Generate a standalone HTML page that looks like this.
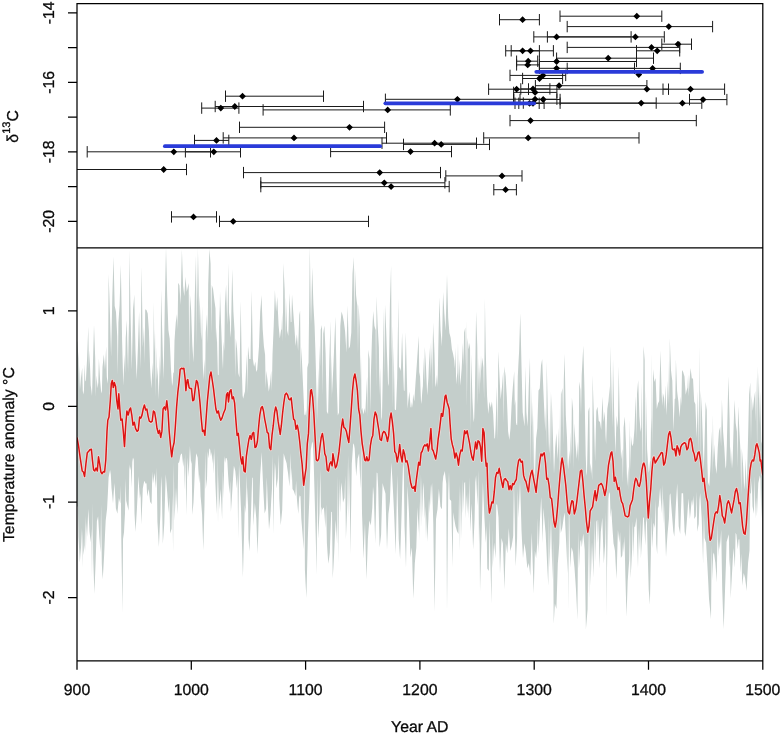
<!DOCTYPE html>
<html><head><meta charset="utf-8"><title>chart</title>
<style>html,body{margin:0;padding:0;background:#fff}svg{display:block}</style></head>
<body>
<svg width="780" height="737" viewBox="0 0 780 737">
<rect width="780" height="737" fill="#fff"/>
<defs><clipPath id="cb"><rect x="77" y="247.8" width="685.8" height="413"/></clipPath>
<clipPath id="ct"><rect x="77" y="3.7" width="685.8" height="244.1"/></clipPath></defs>
<g clip-path="url(#cb)">
<polygon points="77,341.5 77.3,341.5 77.9,350 78.5,358.6 79.2,390.2 79.8,364.9 80.4,389.3 81,378.2 81.6,373 82.2,367.8 82.8,391.1 83.4,394.4 84,389.8 84.6,363.9 85.3,381.5 85.9,380.2 86.5,369.4 87.1,358.5 87.7,342.5 88.3,326.6 88.9,368.8 89.5,350.3 90.1,367.8 90.7,385.3 91.4,390.6 92,395.9 92.6,375.3 93.2,354.6 93.6,339.7 94,324.7 94.6,341.4 95.2,358.1 95.8,397 96.4,375.2 97,381.7 97.7,388.2 98.3,382.3 98.9,358.5 99.5,369.4 100.1,380.2 100.7,386.9 101.3,393.5 101.9,391 102.5,367 103.2,360.6 103.8,354.2 104.4,361.8 105,369.5 105.6,357.9 106.2,346.3 106.8,376.3 107.4,383.7 108,377.9 108.6,274.1 109.3,293.1 109.9,312.1 110.5,334.6 111.1,357.1 111.7,327.1 112.3,297.2 112.9,276.9 113.5,256.6 114.1,281.3 114.7,306 115.4,309.1 116,312.1 116.6,324 117.2,335.9 117.8,375 118.4,322.7 119,314 119.6,305.3 120.2,285 120.8,264.7 121.5,302.8 122.1,340.8 122.7,363.3 123.3,385.7 123.9,370.2 124.5,354.6 125.1,373.3 125.7,338.1 126.3,329.1 126.9,320.1 127.6,369 128.2,322.3 128.8,374.2 129.4,249.7 130,282.8 130.6,315.9 131.2,342.9 131.8,369.9 132.4,339.7 133,309.6 133.7,302 134.3,294.5 134.9,322.5 135.5,350.6 136.1,365.1 136.7,379.6 137.3,363.8 137.9,347.9 138.5,329.7 139.1,311.4 139.8,340 140.4,368.7 141,317.6 141.6,266.6 142.2,307 142.8,347.5 143.4,336.9 144,326.4 144.6,364.1 145.2,309.3 145.9,309.7 146.5,310.1 147.1,311.8 147.7,313.5 148.3,322 148.9,330.4 149.5,348.9 150.1,367.4 150.7,378 151.4,388.6 152,375.6 152.6,362.6 153.2,380.6 153.8,301.6 154.4,352.8 155,329.4 155.6,397.4 156.2,346.5 156.8,380.1 157.5,366.6 158.1,383.1 158.7,399.6 159.3,377.6 159.9,355.6 160.5,377.2 161.1,289.6 161.7,312.1 162.3,334.5 162.9,357 163.6,379.4 164.2,342 164.8,304.6 165.4,275.8 166,246.9 166.6,271.5 167.2,296 167.8,313 168.4,330 169,334.3 169.7,338.6 170.3,353 170.9,367.4 171.5,376.7 172.1,385.9 172.7,382.6 173.3,372.7 173.9,372.5 174.5,341 175.1,331.6 175.8,322.3 176.4,318.2 177,314.1 177.6,329.3 178.2,282.7 178.8,284 179.4,285.3 180,295.1 180.6,305 181.2,277.2 181.9,249.4 182.5,267.5 183.1,285.7 183.7,291 184.3,296.3 184.9,286.5 185.5,276.8 186.1,284.3 186.7,291.7 187.7,287.4 188.7,283.1 189.3,367.7 189.9,293.8 190.5,301.7 191.1,309.7 191.7,327.2 192.3,344.7 192.9,353.6 193.5,362.6 194.2,329.2 194.8,295.8 195.4,275.6 196,255.3 196.6,346.6 197.2,246.2 197.8,302.2 198.4,252.6 199,324.9 199.6,295.3 200.3,313.9 200.9,332.5 201.5,340.5 202.1,306 202.7,359 203.3,380 203.9,369.5 204.5,358.9 205.1,381.7 205.7,332.5 206.4,323.2 207,313.9 207.6,343.9 208.2,285.1 208.8,266.9 209.4,248.8 210,256.2 210.6,263.7 211.2,334.1 211.8,285.1 212.5,287.2 213.1,289.3 213.7,294.5 214.3,299.7 214.9,304.1 215.5,308.5 216.1,342.4 216.7,327.2 217.3,351 217.9,374.8 218.6,375.2 219.2,306 219.6,326.6 220,291.1 220.6,309.3 221.2,327.6 221.8,343.4 222.4,359.3 223,369.5 223.6,341.2 224.3,351.1 224.9,305.7 225.5,295 226.1,284.4 226.7,304.8 227.3,325.3 227.9,294.2 228.5,263 229.1,322.1 229.7,312.1 230.4,337.8 231,330.6 231.6,299.8 232.2,268.9 232.8,290.1 233.4,311.4 234,321.5 234.6,331.6 235.2,377.6 235.8,338.3 236.5,344 237.1,349.7 237.7,361.4 238.3,373.1 238.9,375.4 239.5,377.6 240.1,339.2 240.7,300.8 241.3,336.6 241.9,372.3 242.6,395.6 243.2,398.8 243.8,396.1 244.4,393.5 245,391.2 245.6,380 246.2,367.3 246.8,354.6 247.4,394.1 248,346.1 248.7,352.5 249.3,358.9 249.9,358.9 250.5,358.9 251.1,324.7 251.7,290.6 252.3,324.7 252.9,358.9 253.5,362.9 254.1,366.8 254.8,364.2 255.4,361.5 256,369.6 256.6,372.1 257.2,369.8 257.8,362.6 258.4,354.4 259,346.3 259.6,329.2 260.2,312.1 260.9,303.6 261.5,295 262.1,312.1 262.7,329.2 263.3,337.7 263.9,346.3 264.5,350.6 265.1,354.8 265.7,388.3 266.4,370.7 267,376 267.6,381.3 268.2,386.5 268.8,391.8 269.4,387.9 270,383.9 270.6,377.3 271.2,370.7 271.8,391.3 272.5,354.8 273.1,340.4 273.7,326 274.3,308 274.9,290 275.5,300.7 276.1,311.4 276.7,304 277.3,296.7 277.9,311 278.6,325.3 279.2,331.9 279.8,338.6 280.4,334.6 281,330.6 281.6,329.1 282.2,312.1 282.8,342.3 283.4,263 284,276.6 284.7,290.3 285.3,339.1 285.9,297.2 286.5,313.9 287.1,330.6 287.7,333.3 288.3,335.9 288.9,314.4 289.5,292.9 290.1,307.6 290.8,322.3 291.4,322 292,294.3 292.6,302.9 293.2,311.4 293.8,319.5 294.4,327.6 295,336.8 295.6,346.1 296.2,340.2 296.9,334.3 297.5,342.6 298.1,351 298.7,333 299.3,315 299.7,312.7 300.1,310.4 300.7,376.5 301.3,346.7 302.5,373.1 303.7,399.6 304.3,414 304.9,415.4 305.5,414.6 306.1,410.1 306.7,417.5 307.3,367.8 307.9,365.2 308.5,362.6 309.2,304.1 309.8,245.7 310.4,285.2 311,324.7 311.6,295.9 312.2,267.1 312.8,285.6 313.4,304.2 314,315.2 314.6,326.1 315.3,347.4 315.9,368.7 316.5,394.5 317.1,420.3 317.7,393.9 318.3,367.4 318.9,401.2 319.5,345.1 320.1,366.7 320.7,329.8 321.4,327.5 322,325.1 322.6,395.7 323.2,333.7 323.8,329.6 324.4,325.5 325,339.4 325.6,353.2 326.2,382.4 326.8,411.6 327.5,412.9 328.1,414.2 328.7,387.8 329.3,361.3 329.9,341 330.5,320.7 331.1,398.8 331.7,354.6 332.3,394 332.9,376.4 333.6,361.2 334.2,346.1 334.8,331.2 335.4,316.4 336,347.4 336.6,378.4 337.2,396.9 337.8,415.4 338.4,413.9 339,412.4 339.7,369.3 340.3,326.1 340.9,318.8 341.5,311.4 342.1,313.4 342.7,315.5 343.3,318.7 343.9,321.9 344.5,326.8 345.1,331.6 345.8,342.2 346.4,352.8 347,329 347.6,305.2 348.2,327 348.8,348.7 349.4,347.4 350,346.1 350.6,339.3 351.3,332.5 351.9,303.2 352.5,274 353.1,265.4 353.7,256.9 354.3,331.2 354.9,267.6 355.5,281.5 356.1,295.3 356.7,300.7 357.4,306 358,353.9 358.6,303.9 359.2,315.1 359.8,326.4 360.4,380.6 361,354.8 361.6,410.6 362.2,407.7 362.8,411.1 363.5,414.4 364.1,411.3 364.7,408.1 365.3,413.6 365.9,400.2 366.5,388.3 367.1,376.4 367.7,417.3 368.3,349.7 368.9,354.3 369.6,358.9 370.2,412.6 370.8,377.2 371.4,356.9 372,336.5 372.6,323.7 373.2,310.9 373.8,318.4 374.4,325.8 375,328 375.7,330.1 376.1,387.6 376.5,295.9 377.1,311 377.7,326.1 378.3,336.8 378.9,347.5 379.5,395.5 380.1,367.4 380.7,393.9 381.4,420.3 382,416.7 382.6,384.9 383.2,346.7 383.8,308.5 384.4,376.4 385,304.2 385.6,317.3 386.2,330.4 386.8,348.9 387.5,367.4 388.1,386.2 388.7,383.3 389.3,344 389.9,304.8 390.5,285.2 391.1,265.5 391.7,360 392.3,325.3 392.9,408.1 393.6,346.1 394.2,377.7 394.8,409.3 395.4,410 396,410.1 396.6,393.9 397.2,377.6 397.8,338 398.4,298.5 399,369 399.7,366.8 400.3,368.9 400.9,370.9 401.5,351.7 402.1,332.5 402.7,353.8 403.3,375.2 403.9,390.6 404.5,391 405.1,361.5 405.8,332 406.4,357.6 407,383.1 407.6,408.8 408.2,402 408.8,396.7 409.4,391.4 410,399.4 410.6,407.3 411.2,407.4 411.9,402 412.5,407.7 413.1,394.1 413.7,397.7 414.3,401.4 414.9,392.1 415.5,382.9 416.1,374.5 416.7,366 417.7,350.9 418.7,335.7 419.3,376.6 419.9,372.1 420.5,388 421.1,403.9 421.7,400.3 422.3,391.2 422.9,385.7 423.5,357 424.2,383.1 424.8,346.7 425.4,357 426,367.2 426.6,381.4 427.2,395.6 427.8,386.8 428.4,378 429,362.7 429.7,347.5 430.3,376.7 430.9,342.3 431.5,369.3 432.1,332.1 432.7,391.2 433.3,322.1 433.9,338.1 434.5,354.1 435.2,382.8 435.8,387.3 436.4,380.9 437,374.6 437.6,387.4 438.2,352.1 438.8,324.7 439.4,297.3 440,313.9 440.6,330.6 441.3,338.5 441.9,346.5 442.5,319.3 443.1,292.1 443.7,302.4 444.3,312.7 444.9,321.6 445.5,330.6 446.3,302.4 447,274.2 447.6,295.9 448.2,317.7 448.8,325.4 449.4,333 450.1,335.5 450.7,337.9 451.3,343.6 451.9,349.2 452.5,351.6 453.1,354.1 453.7,357.2 454.3,360.4 454.9,368.4 455.5,347.5 456.2,384.5 456.8,378 457.4,372.5 458,342.3 458.6,386.6 459.2,358.9 459.8,372.4 460.4,385.8 461,377 461.7,368.2 462.3,355.5 462.9,342.8 463.5,365.8 464.1,332.6 464.7,330 465.3,327.4 465.8,367.6 466.3,319.7 466.9,406.8 467.5,337.7 468.1,343.4 468.7,349.2 469.3,346 470,342.8 470.6,431.5 471.2,354.1 471.8,376.3 472.4,398.5 473,410.5 473.6,422.4 474.2,417.9 474.8,396.3 475.5,353.8 476.1,311.3 476.7,329.3 477.3,347.2 477.9,405.2 478.5,357.5 479.1,395.3 479.7,363.8 480.3,384.1 481,354.9 481.6,371 482.2,357.5 482.8,362.2 483.4,367 484.1,399.3 484.9,298.2 485.3,325.1 485.8,352 486.4,374.3 487.1,396.6 487.7,405.3 488.3,414.1 488.9,407.8 489.5,401.4 490.1,404.6 490.7,407.8 491.3,404.6 491.9,401.4 492.6,407.8 493.2,414.1 493.8,426.4 494.4,438.6 495,438.2 495.6,426.8 496.2,406.6 496.8,386.3 497.6,439.9 498.3,350.9 498.9,363.7 499.5,376.5 500.1,388 500.7,399.5 501.3,393.1 502,386.8 502.6,379.1 503.2,371.4 503.8,423.6 504.4,366.3 505,371.2 505.6,376 506.2,386.3 506.8,396.6 507.5,413.9 508.1,431.2 508.7,435.6 509.3,440.1 509.9,434.2 510.5,428.3 511.1,415.6 511.7,402.9 512.3,394.6 512.9,386.3 513.6,378.6 514.2,370.9 514.8,405.8 515.4,399.5 516,422.5 516.6,424.9 517.2,425.3 517.8,376.5 518.4,363.9 519.1,351.4 519.7,332.1 520.3,312.9 520.9,339.3 521.5,365.8 522.1,389 522.7,412.2 523.3,416.8 523.9,421.5 524.6,426.5 525.2,366.3 525.8,389.2 526.4,412.2 527,419.5 527.6,426.8 528.2,406.3 528.8,385.8 529.4,371.7 530,357.6 530.7,469.3 531.3,385.8 531.9,427.1 532.5,401.2 533.1,471.1 533.7,414.3 534.3,473.8 534.9,475.6 535.5,457.1 536.1,438.6 536.7,433.3 537.3,428 537.9,409.3 538.5,390.5 539.2,389.4 539.8,388.3 540.4,376.8 541,365.4 541.6,362.2 542.2,359 542.8,375 543.4,391 544,404.2 544.6,417.5 545.3,431.6 545.9,406.9 546.3,449.8 546.7,360.9 547.3,387.4 547.9,413.8 548.5,433.7 549.1,453.7 549.7,442.6 550.3,390 550.9,464.7 551.6,393.2 552.2,412.5 552.8,431.7 553.4,452.8 554,474 554.6,460.8 555.2,447.6 555.8,440.2 556.4,432.9 557,446.1 557.7,459.3 558.3,443.5 558.9,427.6 559.5,478.2 560.1,390 560.7,468.3 561.3,394.3 561.9,391.1 562.5,387.9 563.2,445.2 563.8,379.3 564.2,366.5 564.6,353.7 565.2,384.4 565.8,415 566.4,426.4 567,437.8 567.6,461.9 568.2,469.5 568.8,459.8 569.5,450 570.1,464.2 570.7,431.7 571.3,456.8 571.9,397.5 572.5,403.9 573.1,410.3 573.7,469.8 574.3,423.1 574.9,433.9 575.6,444.7 576.2,451.8 576.8,458.9 577.4,450.2 578,441.5 578.6,462.2 579.2,381.5 579.8,385.4 580.4,389.4 581,415.3 581.7,375 582.5,360.2 583.3,345.4 583.9,367.8 584.5,390.2 585.1,422.5 585.7,454.9 586.3,472.1 586.9,476 587.6,443.7 588.2,411.4 588.8,409.1 589.4,406.9 590,474 590.6,463 591.2,468.3 591.8,473.6 592.2,480.7 592.6,374.8 593.2,395.1 593.9,415.4 594.5,438.6 595.1,461.8 595.7,436.4 596.3,410.9 596.9,408.8 597.5,406.7 598.1,413.7 598.7,420.7 599.4,421.4 600,422.1 600.6,426.1 601.2,430.1 601.8,413.2 602.4,396.4 603,409.2 603.6,421.9 604.2,416.6 604.8,411.4 605.5,434.9 606.1,444.3 606.7,426.7 607.3,409.1 607.9,405.1 608.5,401.2 609.1,393.6 609.7,385.9 610.1,415.2 610.5,345.4 611.1,373.1 611.8,400.9 612.4,427.7 613,358.5 613.6,386.4 614.2,414.4 614.8,434 615.4,453.7 616,434.5 616.6,415.4 617.2,421.5 617.9,427.6 618.3,396.7 618.7,365.7 619.3,396.7 619.9,427.6 620.5,443.5 621.1,459.3 621.7,454.1 622.3,448.8 622.9,483.1 623.6,427.6 624.2,422.1 624.8,416.5 625.4,430.2 626,443.9 626.6,465 627.2,486.2 627.8,476.2 628.4,466.3 629,490.2 629.7,418.7 630.3,470.1 630.9,435.8 631.5,441 632.1,446.3 632.7,444.9 633.3,443.5 633.9,436.2 634.5,428.8 635.1,412.4 635.8,396 636.4,439.9 637,394.3 637.6,387.1 638.2,380 638.8,398.1 639.4,416.2 640,424.2 640.6,432.1 641.2,427.3 641.9,382.3 642.7,480.9 643.5,346 644.1,353 644.7,360.1 645.3,480.1 645.9,390 646.5,419.6 647.1,449.2 647.9,461 648.7,472.8 649.3,470.1 649.9,462.2 650.5,460.4 651.1,417.5 651.5,432.4 651.9,352.1 652.5,451 653.1,369.1 653.7,375.6 654.4,382.1 655,380 655.6,378 656.2,393.5 656.8,408.9 657.4,406.3 658,403.6 658.6,402.3 659.2,401 659.8,375.6 660.5,350.2 661.1,372.7 661.7,395.1 662.3,406.1 662.9,392.9 663.5,395.6 664.1,398.3 664.7,409.4 665.3,384.9 665.9,400.1 666.6,415.2 667.2,397.9 667.8,380.6 668.4,404.6 669,359.3 669.4,403.9 669.8,338.1 670.4,354.2 671,370.2 671.6,375.5 672.3,380.8 672.9,406 673.5,431.1 674.1,415 674.7,398.9 675.3,398.5 675.9,359 676.5,375 677.1,391 677.7,396.3 678.4,401.6 679,409.5 679.6,417.5 680.2,406.9 680.8,396.3 681.4,405.9 682,369.9 682.6,370.9 683.2,372 683.8,374.2 684.5,376.5 685.1,385.6 685.7,394.7 686.3,392 686.9,389.4 687.5,387.5 688.1,374.5 688.7,396.3 689.3,384.1 689.9,376 690.6,367.9 691.2,373.2 691.8,378.4 692.4,378.5 693,378.6 693.6,390 694.2,401.4 694.8,402.8 695.4,404.2 696,421.4 696.7,438.6 697.3,414.7 697.9,390.7 698.7,451.6 699.5,345.7 700.1,461 700.7,390.4 701.3,400.9 701.9,411.4 702.6,432.5 703.2,453.7 703.8,470.4 704.4,448.4 705,425.1 705.6,401.8 706.2,406.1 706.8,410.3 707.4,462.5 708,482.1 708.7,484.2 709.3,486.2 709.9,475.6 710.5,465 711.1,448.1 711.7,431.1 712.3,475.4 712.9,414 713.5,462.8 714.1,443.9 714.8,454.5 715.4,465 716,469.5 716.6,474 717.2,460.8 717.8,447.6 718.4,439.3 719,431.1 719.6,428.9 720.2,426.8 721.1,446.4 721.9,399 722.5,415.4 723.1,431.7 723.7,439.6 724.3,447.6 724.9,458.1 725.5,468.7 726.1,465.9 726.8,446.3 727.6,411.1 728.4,376 729,397.3 729.6,418.7 730.2,464.5 730.8,446.3 731.4,457.5 732,468.7 732.7,458.8 733.3,437 733.9,418.3 734.5,399.7 735.1,411.4 735.7,423.1 736.3,427.3 736.9,431.5 737.5,468.1 738.1,405.9 738.8,418.7 739.4,431.5 740,442.4 740.6,453.2 741.2,494.4 741.8,448 742.4,455.9 743,463.8 743.6,476.6 744.2,489.5 744.9,482.2 745.5,458.5 746.1,474 746.7,489.5 747.3,466.7 747.9,443.9 748.5,419.2 749.1,394.5 749.7,388.3 750.3,382.2 751,441.9 751.6,395.1 752.2,403 752.8,410.9 753.4,404.9 754,398.9 754.6,395 755.2,391 755.8,421.9 756.5,376.1 757.1,455.8 757.7,365.3 758.3,398.9 758.9,371.8 759.5,424.4 760.1,391 760.7,416.1 761.3,441.2 761.9,443.6 762.6,446 762.8,446 762.8,521.5 762.7,521.5 762,487.1 761.3,519 760.5,478.7 759.8,475.4 759.1,479.3 758.3,483.2 757.6,499.8 756.9,516.5 756.1,497.3 755.4,519 754.7,476 753.9,513.8 753.2,510 752.5,506.2 751.7,480.6 751,493.2 750.3,493.5 749.5,550.6 748.8,556.7 748.1,562.8 747.3,576.9 746.6,591 745.9,584.6 745.1,578.2 744.4,575.6 743.7,573.1 742.9,579.4 742.2,585.7 741.5,553.4 740.7,572.8 740,556 739.3,539.2 738.6,539.6 737.8,549.5 737.1,541.9 736.4,534.4 735.6,532.8 734.9,567.7 734.2,557.9 733.4,548 732.7,560.9 732,573.7 731.3,586.1 730.7,598.5 730.1,557.6 729.5,567.7 728.8,534.3 728,536.9 727.3,539.5 726.6,542.1 725.9,565.1 725.1,588.2 724.4,608.7 723.7,629.3 722.9,608.9 722.2,588.5 721.7,559.1 721.2,529.7 720.5,539.9 719.7,550 719,540.8 718.3,556.8 717.5,523.5 716.8,582.5 716.1,572.5 715.3,562.6 714.6,557.6 713.9,552.6 713.1,554.8 712.4,580.8 711.7,545 711,619.2 710,609 709,598.7 708.3,583.3 707.5,567.9 706.8,555.4 706.1,542.8 705.3,540.5 704.6,538.1 703.9,513.6 703.1,564 702.4,541.1 701.7,518.2 700.9,505.6 700.2,493 699.5,499.9 698.7,524 698,527.8 697.3,531.7 696.5,491.4 695.8,516.3 695.1,517.6 694.3,518.9 693.6,495.6 692.9,506 692.1,499.3 691.4,503.5 690.7,511.2 689.9,518.9 689.2,508.7 688.5,498.5 687.7,508.7 687,518.9 686.3,527.8 685.5,536.8 685.1,534.2 684.6,531.7 683.8,512.4 683.1,493.2 682.4,493.2 681.6,493.2 680.9,513.5 680.2,533.9 679.4,530 678.7,526.2 678,504.7 677.2,483.2 676.5,494.7 675.8,506.3 675,521.5 674.3,536.8 673.8,534.1 673.3,531.3 672.6,522.5 671.9,513.7 671.1,503.5 670.4,493.2 669.7,495.1 668.9,518.9 668.2,526.5 667.5,534.2 666.7,545.8 666,557.3 665.3,538.1 664.5,518.9 663.8,498.2 663.1,524 662.3,484.4 661.6,513.5 660.9,500.7 660.1,487.8 659.4,496.8 658.7,505.8 657.9,508.5 657.2,554.5 656.7,549.3 656.2,544 655.5,499.7 654.8,527.9 654.2,525.3 653.5,522.8 652.9,535.6 652.3,548.4 651.7,516.8 651.1,543.3 650.5,574.1 649.9,604.8 649.3,597.1 648.7,589.4 647.7,553.5 646.8,517.5 646,522.8 645.3,545.6 644.6,531.6 643.8,517.5 643.1,517.5 642.4,532.9 641.6,545.7 640.9,558.5 640.2,519.6 639.4,550.9 638.7,527.7 638,568.6 637.2,542.9 636.5,517.3 635.8,522.2 635,527.2 634.3,526.2 633.6,557.9 632.8,521.1 632.1,550.1 631.4,564.2 630.6,578.3 629.9,518.4 629.2,560.5 628.4,570.8 627.7,581 627.1,599 626.5,616.9 625.9,595.1 625.3,573.3 624.5,536.1 623.8,552.7 623.1,541.8 622.3,555.4 621.6,556.7 620.9,558.1 620.1,532.1 619.4,542.8 618.7,536.4 617.9,530.1 617.2,554.6 616.5,579.2 615.7,565.1 615,551 614.3,547.1 613.5,543.3 612.8,533 612.1,522.8 611.3,508.3 610.6,517.6 609.9,493.9 609.1,492 608.4,498.8 607.7,568.9 607.1,494.4 606.5,617.7 605.8,512 605.2,543.3 604.5,553.5 603.8,563.8 603,540.7 602.3,517.6 601.6,524.8 600.8,532 600.1,550.5 599.4,568.9 598.6,519.3 597.9,543.3 597.2,519.8 596.4,521.8 595.7,542.3 595,562.8 594.2,520.1 593.5,578 592.8,560 592,542.1 591.3,564 590.6,585.9 589.8,522.9 589.1,598.7 588.4,529.1 587.6,609 586.8,619.1 585.9,629.3 585.3,589.5 584.7,549.8 584,541.6 583.2,533.5 582.5,540.3 581.8,547.2 581.1,539.2 580.3,542.1 579.6,555.2 578.9,568.4 578.1,531.2 577.4,619.7 576.7,604 575.9,588.2 575.2,578 574.5,567.7 573.7,560 573,552.3 572.3,549.8 571.5,547.2 570.8,557.4 570.1,567.7 569.3,498.9 568.6,612 568.1,499.1 567.6,573.8 566.9,558.5 566.2,543.3 565.4,527.9 564.7,512.5 564.2,515.1 563.7,517.6 563,522.8 562.2,527.9 561.5,530.5 560.8,533 560,513.5 559.3,543.3 558.6,553.5 557.8,563.8 557.1,586.4 556.4,609 555.6,606.3 554.9,603.6 554.3,613.9 553.7,624.1 553.1,540.3 552.5,580.5 551.7,548.5 551,516.4 550.3,542.1 549.5,567.7 548.9,515.4 548.3,585.9 547.7,574.8 547.1,563.8 546.4,548.4 545.6,533 544.9,525.3 544.2,517.6 543.4,507.8 542.7,543.3 542,520.2 541.2,497.1 540.5,509.9 539.8,522.8 539.2,538.1 538.5,553.5 537.9,518 537.3,543.3 536.7,550.8 536.1,558.3 535.5,554.4 534.9,550.5 534.3,572.3 533.7,594.1 532.7,563.3 531.8,532.5 531,554.2 530.3,575.9 529.6,569.5 528.8,563.1 528.1,565.7 527.4,568.4 526.6,560.7 525.9,553 525.2,548.2 524.4,543.3 523.7,550.7 523,558.2 522.2,544.3 521.5,530.5 520.8,506.2 520,482 519.3,499.9 518.6,517.9 517.8,489.2 517.1,538.4 516.4,552.6 515.6,566.7 515.1,542.4 514.7,518 513.9,480.5 513.2,535.8 512.5,540.8 511.7,545.8 511,548.4 510.3,551 509.5,539.4 508.8,527.9 508.1,540.7 507.3,553.5 506.6,548.4 505.9,543.3 505.1,566.4 504.4,589.4 503.7,566.4 502.9,543.3 502.2,540.7 501.5,538.1 500.7,556.1 500,574.1 499.3,545.8 498.5,517.6 497.8,511 497.1,504.4 496.3,504.6 495.6,558.3 494.9,550.4 494.1,542.5 493.4,555.4 492.7,568.2 492.1,529.8 491.5,604.5 490.8,577.5 490.2,550.6 489.5,519.6 488.8,571.1 488,569.8 487.3,568.6 486.6,526.1 485.8,542.9 485.1,530.3 484.4,517.6 483.6,499.7 482.9,481.7 482.2,512.5 481.4,543.3 480.7,567.6 480,592 479.5,523.5 479,544.5 478.3,469.8 477.5,506 476.8,490.6 476.1,475.3 475.3,482.5 474.6,518.9 473.9,534.2 473.1,549.6 472.4,526.5 471.7,503.5 470.9,517.7 470.2,531.9 469.5,477.1 468.7,518.9 468,491.2 467.3,513.7 466.5,494.8 465.8,518.9 465.1,482.1 464.3,482.9 463.6,498.2 462.9,513.4 462.1,479.2 461.4,539.4 460.7,487.9 459.9,551.8 459.2,484.6 458.5,533.9 457.7,532.6 457,531.3 456.3,528.7 455.5,526.2 454.8,522.2 454.1,518.2 453.3,512.3 452.6,567.2 451.9,534.1 451.2,500.9 450.4,500 449.7,499.2 449,472 448.2,494.1 447.6,553 447,612 446.6,548 446.3,483.9 445.5,477.5 444.8,471.1 444.1,473.7 443.3,476.2 442.6,483.1 441.9,509.2 441.1,507.9 440.4,506.5 439.7,497.6 438.9,488.7 438.2,498.9 437.5,509.2 436.7,514.3 436,519.3 435.3,565.5 434.5,611.7 433.9,567.9 433.3,524.2 432.7,503.6 432.1,482.9 431.5,487.7 430.9,506 430.3,484.1 429.7,513.7 429,498.4 428.4,518.9 427.8,530.4 427.2,541.9 426.6,514.3 426,539.4 425.4,506.2 424.8,518.9 424.2,500.7 423.5,482.5 422.9,490.2 422.3,518.1 421.7,476.5 421.1,528.1 420.5,473.4 419.9,541 419.3,501 418.7,533.1 417.5,507.3 416.3,547.8 415.5,555.5 414.8,563.2 414.1,581 413.3,598.8 412.6,573.1 411.9,547.5 411.1,552.6 410.4,557.7 409.7,534.7 408.9,511.6 408.2,498.7 407.5,485.9 406.7,527.2 406,568.5 405.3,547 404.5,525.5 403.8,468.3 403.1,461.4 402.3,487.2 401.6,513 400.9,536.1 400.1,559.2 399.4,548.9 398.7,538.7 397.9,506.7 397.2,474.8 396.5,514.6 395.7,554.3 395,536.4 394.3,518.4 393.6,503 392.8,487.6 392.1,475.1 391.4,462.6 390.6,482 389.9,501.4 389.2,507.7 388.4,513.9 387.7,531.8 387,549.8 386.2,521.8 385.5,493.7 384.8,491.2 384,488.6 383.3,485.9 382.6,483.1 381.8,508.9 381.1,534.7 380.4,541.1 379.6,547.5 378.9,518 378.2,488.5 377.4,473.2 376.7,472.5 376,508.1 375.2,543.7 374.5,519.2 373.8,494.7 373,486.6 372.3,507.7 371.6,516.6 370.8,525.6 370.1,523 369.4,520.5 368.6,529.5 367.9,538.4 367.2,559 366.4,579.6 365.7,551.4 365,523.2 364.2,541.1 363.5,559.1 362.8,536.2 362,513.3 361.3,441.5 360.6,488.9 359.8,471.2 359.1,453.6 358.4,456.1 357.6,458.7 356.9,467.7 356.2,476.6 355.4,462.5 354.7,448.4 354,444.7 353.2,443.3 352.5,453.6 351.8,463.8 351.1,509.4 350.3,555 349.6,465.9 348.9,519.1 348.1,455 347.4,501.1 346.7,520.2 345.9,539.4 345.2,475.4 344.5,497.9 343.7,500.3 343,502.8 342.3,492.5 341.5,482.3 340.8,490.8 340.1,512.9 339.3,478.2 338.6,564.2 337.9,475.8 337.1,543.7 336.4,531.6 335.7,519.5 334.9,536.2 334.2,552.8 333.5,565.7 332.7,578.5 332,511.9 331.3,511.8 330.5,532.3 329.8,552.8 329.1,558.3 328.3,563.8 327.6,553.6 326.9,543.3 326.1,504.4 325.4,527.9 324.7,517.7 323.9,507.4 323.2,508.1 322.5,510 321.7,507.1 321,515.7 320.3,469.4 319.5,513.3 318.8,526.1 318.1,538.9 317.3,476.1 316.6,575 315.9,544.1 315.1,513.3 314.4,487.6 313.7,462 312.9,443.8 312.2,441.5 311.5,446 310.7,450.5 310,475.4 309.3,500.2 308.5,519.6 307.8,538.9 307.1,568.4 306.4,597.9 305.6,583.8 304.9,569.7 304.3,441.8 303.7,549.2 302.5,533.8 301.3,518.4 300.5,496.5 299.8,495.3 299.1,498 298.3,514 297.6,506.4 296.9,498.7 296.1,480.8 295.4,496.2 294.7,493.7 293.9,491.3 293.2,490.1 292.5,488.9 291.7,467.8 291,481.3 290.3,453 289.5,486.4 288.8,480 288.1,473.6 287.3,468.5 286.6,463.3 285.9,460.9 285.1,458.4 284.4,455.9 283.7,453.3 282.9,481.6 282.2,509.9 281.5,517.6 280.7,525.2 280,512.2 279.3,499.1 278.6,454.3 277.8,478.6 277.1,483.5 276.4,488.4 275.6,470.1 274.9,462.7 274.2,481.8 273.4,534.5 272.7,454.5 272,488.4 271.2,501.2 270.5,514 269.8,521.7 269,529.4 268.3,514 267.6,498.6 266.8,477.2 266.1,508.4 265.4,511 264.6,513.5 263.9,500.6 263.2,487.6 262.4,469.8 261.7,452 261,463.5 260.2,475.1 259.5,494.3 258.8,513.5 258.2,533.9 257.5,554.3 256.9,536.4 256.3,518.4 255.6,510.7 254.9,503 254.1,514.6 253.4,526.1 252.8,478 252.2,477.4 251.6,495.2 251,513 250.2,532.3 249.5,551.5 249,545.2 248.5,538.9 247.8,487.1 247,505.6 246.3,474.3 245.6,513.3 244.8,505 244.1,533.8 243.5,555.6 242.9,577.4 242,545.3 241.2,513.3 240.4,495.5 239.7,477.7 239,463.9 238.2,539 237.5,474 236.8,488.6 236.1,479.8 235.3,470.9 234.6,468.3 233.9,465.8 233.1,477.6 232.4,489.3 231.7,500.6 230.9,511.9 230.2,480.4 229.5,494 228.7,483.7 228,473.5 227.3,460.8 226.5,458.1 225.8,457.9 225.1,463 224.3,456 223.6,498.6 222.9,470.9 222.1,519.4 221.4,504.1 220.7,488.9 219.9,499.1 219.2,509.4 218.6,474.6 218,524.8 217.4,454.8 216.8,514.5 216,498 215.3,481.5 214.6,448.1 213.8,474 213.1,454.1 212.4,463.7 211.6,452 210.9,456 210.2,449.7 209.4,448.3 208.9,453.4 208.4,458.6 207.7,451 207,479.1 206.4,484.1 205.8,489.1 205.2,450.9 204.5,504.5 203.9,527.6 203.3,550.6 202.7,532.7 202.1,514.7 201.4,505.6 200.6,496.5 199.9,474.3 199.2,483.4 198.4,470.5 197.7,457.7 197,455.4 196.2,453.2 195.5,462.3 194.8,471.5 194.2,486.9 193.5,502.3 192.9,508.7 192.3,515.1 191.7,460.5 191.1,464.1 190.5,455.1 189.9,446.1 189.3,461.5 188.7,476.9 187.5,457.3 186.3,515.6 185.5,453 184.8,490 184.1,457.7 183.3,466.9 182.6,460.2 181.9,453.6 181.1,454.1 180.4,455.5 179.7,459.4 178.9,463.2 178.2,462.3 177.5,514.5 176.7,501.1 176,487.6 175.3,504.3 174.5,521 173.8,462.4 173.1,551.7 172.3,495.5 171.6,528.7 170.9,531 170.1,533.4 169.4,497.2 168.7,512.9 167.9,502.7 167.2,492.4 166.5,483.4 165.7,474.3 165,498.7 164.3,523.2 163.6,533.6 162.8,544.1 162.3,515.8 161.8,487.6 161.1,476.1 160.4,514.3 159.6,530.7 158.9,547.1 158.2,534.3 157.4,521.5 156.7,467.5 156,488.2 155.2,480.7 154.5,473.1 153.8,478.2 153,483.4 152.3,471.4 151.6,504.2 150.9,503 150.1,501.7 149.4,495.3 148.7,488.9 147.9,492.7 147.2,496.5 146.5,483.3 145.7,483.7 145,482.3 144.3,480.8 143.5,484.6 142.8,488.5 142.1,506.4 141.3,524.4 140.6,493.3 139.9,498.7 139.1,487.4 138.4,476 137.7,492.7 136.9,509.4 136.2,520.7 135.5,532 135,522.8 134.5,513.6 133.8,459.7 133,457.5 132.3,462.1 131.6,488 130.8,466.3 130.1,469.9 129.4,464.3 128.6,510.8 128,508.3 127.4,505.7 126.8,503.3 126.2,500.8 125.6,478.6 125,513.6 124.3,526.3 123.7,539 123.1,532.3 122.5,613.4 121.9,576.3 121.3,539.2 120.8,485.2 120.3,503.3 119.6,500.7 118.9,498.1 118.1,506 117.4,513.8 116.7,511.2 115.9,508.6 115.2,495.8 114.5,483 113.7,493.2 113,503.5 112.3,495.8 111.5,488.1 110.8,474.5 110.1,469.9 109.3,473.8 108.6,477.6 107.9,493 107.1,508.4 106.4,514.5 105.7,520.6 104.9,537.3 104.2,553.9 103.5,566.7 102.7,579.5 102.2,571.4 101.8,563.4 101.1,504.4 100.5,552.4 99.9,544.7 99.3,537 98.7,526.6 98.1,516.2 97.5,518.8 96.9,521.3 96.3,542 95.6,562.6 95,578.3 94.4,593.9 93.8,576.1 93.2,558.2 92.6,503 92,578.5 91.4,528.4 90.8,542.5 90.2,537.2 89.5,531.8 88.9,520.3 88.3,508.8 87.7,523 87.1,537.2 86.5,521.9 85.9,552.6 85.3,515.8 84.7,545 84,550.2 83.4,555.3 82.8,529.5 82.2,568.1 81.6,527.7 81,547.5 80.4,555.1 79.8,562.7 79.2,550 78.5,537.2 77.9,507.1 77.3,506.3 77,506.3" fill="#c4cecb"/>
<path d="M77 437.9 L77.1 437.9 L78.5 445.6 L80.2 457.8 L82.2 471 L83.4 472 L84.6 476.5 L85.9 463.9 L87.3 452.7 L88.7 451.3 L89.9 449.7 L91.4 449.2 L92.4 459.8 L93.6 470 L94.8 471 L96 468 L97.3 471 L98.5 456.8 L99.7 463.9 L100.9 472 L102.1 473.7 L103.4 471.6 L104.6 472 L105.8 459.8 L107 431.4 L107.8 420.2 L109 417.1 L110.3 400.8 L111.3 383.6 L112.3 380.5 L113.3 387.6 L114.3 382.5 L115.6 386.6 L116.8 400.8 L118 409 L118.8 393.7 L120 411 L120.8 420.2 L122.1 419.1 L123.3 431.4 L124.5 446.6 L125.7 425.2 L126.9 411 L128.2 415.1 L129.4 410 L130.6 408 L131.8 415.1 L133 425.2 L134.3 422.2 L135.5 428.3 L137.1 431.4 L138.3 430.3 L139.6 417.1 L140.8 418.1 L142 415.1 L143.2 409 L144.4 404.9 L145.7 410 L146.9 409 L148.1 416.1 L149.3 421.2 L150.9 422.2 L152.2 421.2 L153.4 411 L154.6 412 L155.8 419.1 L157 428.3 L158.3 433.4 L159.5 430.3 L160.7 437.5 L161.9 431.4 L163.1 409 L164.4 406.9 L165.6 410 L166.8 400.8 L168 411 L169.2 431.4 L170.5 445.6 L171.7 456.8 L172.9 447.6 L174.1 442.5 L175.3 427.3 L176.6 406.9 L177.8 392.7 L179 382.5 L180.2 369.3 L181.5 368.3 L182.7 368.7 L183.9 368.3 L185.1 378.5 L185.9 390.7 L187.1 380.5 L187.8 379.5 L189.1 387.6 L190.3 388.6 L191.5 388.6 L192.7 400.8 L193.9 399.8 L195.2 388.6 L196.4 380.5 L197.6 382.5 L198.8 390.7 L200 402.9 L201.3 419.1 L202.5 431.4 L203.7 430.3 L204.9 435.4 L206.2 417.1 L207.4 400.8 L208.6 388.6 L209.8 376.4 L211 372 L212.3 380.5 L213.5 388.6 L214.7 398.8 L215.9 409 L217.1 413 L218.4 411 L219.6 417.1 L220.8 420.2 L222 418.1 L223.6 413 L225.3 409 L226.5 394.7 L227.7 392.7 L228.5 401.9 L229.7 391.7 L231 389.7 L232.2 398.8 L233.4 396.8 L234.6 402.9 L235.8 419.1 L237.1 435.4 L238.3 433.4 L239.5 445.6 L240.7 457.8 L241.9 463.9 L242.8 456.8 L244 471 L245.2 472 L246.4 455.8 L247.6 447.6 L248.9 439.5 L250.1 435.4 L251.3 439.5 L252.5 433.4 L253.7 432.4 L255 447.6 L256.2 446.6 L257.4 441.5 L258.6 427.3 L259.8 415.1 L261.1 408 L262.3 406.5 L263.5 411 L264.7 419.1 L265.9 425.2 L267.2 432.4 L268.4 433.4 L269.6 447.6 L270.8 449.7 L272 435.4 L273.3 425.2 L274.5 413 L275.7 406.9 L276.9 411 L278.1 421.2 L279.4 429.3 L280.2 434.4 L281.4 425.2 L282.6 413 L283.8 402.9 L285.1 394.7 L286.3 393.1 L287.5 394.7 L288.7 398.8 L289.9 399.8 L291.2 397.8 L292.4 409 L293.6 419.1 L294.8 420.2 L296 429.3 L297.3 425.2 L298.5 431.4 L299.7 441.5 L300.9 453.7 L302.1 463.9 L303.7 485.2 L304.9 476.1 L306.1 468 L307.3 443.6 L308.5 433.4 L309.4 409 L310.6 390.7 L311.4 389.7 L312.6 396.8 L313.8 413 L315 435.4 L316.3 459.8 L317.5 460.8 L318.7 458.8 L319.9 447.6 L321.2 437.5 L322.4 433.4 L323.6 441.5 L324.8 453.7 L326 456.8 L327.3 470 L328.5 471 L329.7 463.9 L330.9 461.9 L332.1 465.9 L332.9 453.7 L334.2 460.8 L335.4 468 L336.6 465.9 L337.8 459.8 L339 451.7 L340.3 439.5 L341.5 427.3 L342.7 419.1 L343.9 427.3 L345.1 428.3 L346.4 431.4 L347.6 437.5 L348.8 442.5 L350 427.3 L351.3 409 L352.5 390.7 L353.7 378.5 L354.9 374 L356.1 380.5 L357.4 390.7 L358.6 409 L359.8 415.1 L361 431.4 L362.2 443.6 L363.5 451.7 L364.7 459.8 L365.9 460.8 L366.7 456.8 L367.9 460.8 L369.1 459.8 L370.4 445.6 L371.6 438.5 L372.8 435.4 L374 419.1 L375.2 412 L376.5 415.1 L377.7 423.2 L378.9 430.3 L380.1 439.5 L381.4 440.5 L382.6 433.4 L383.8 431.4 L385 432.4 L386.2 435.4 L387.5 441.5 L388.7 435.4 L389.9 419.1 L391.1 413 L392.3 421.2 L393.6 433.4 L394.8 451.7 L396 453.7 L397.2 461.9 L398.4 455.8 L399.7 444.6 L400.9 455.8 L402.1 461.9 L403.3 449.7 L404.5 453.7 L405.8 461.9 L407 460.8 L408.2 465.9 L409.4 474.1 L410.6 482.2 L411.9 487.3 L413.1 488.3 L414.3 486.3 L415.1 491.3 L416.3 480.2 L418.7 462.2 L419.9 465.2 L421.1 453 L422.3 451 L423.5 446.9 L424.8 444.9 L426 445.9 L427.2 443.9 L428.4 451 L429.6 442.9 L430.9 428.6 L432.1 449 L433.3 451 L434.5 455.1 L435.7 459.1 L437 451 L438.2 438.8 L439.4 430.7 L440.6 420.5 L441.4 413.4 L442.7 416.4 L443.9 406.3 L445.1 396.1 L445.9 395.1 L447.1 402.2 L448.4 406.3 L449.2 409.3 L450 422.5 L451.2 438.8 L452.4 444.9 L453.6 449 L454.9 458.1 L456.1 453 L457.3 457.1 L458.5 465.2 L459.7 455.1 L461 450 L462.2 451 L463.4 440.8 L464.6 430.7 L465.8 433.7 L467.1 430.7 L468.3 436.8 L469.5 442.9 L470.7 451 L471.9 457.1 L473.2 460.2 L474.4 451 L475.6 441.9 L476.8 449 L478 440.8 L479.3 441.9 L480.5 446.9 L481.7 461.2 L482.9 428.6 L484.1 432.7 L485.4 457.1 L486.2 466.3 L487 463.2 L487.8 487.6 L488.6 503.9 L489.4 513 L490.7 508 L491.9 501.9 L493.1 502.9 L494.3 491.7 L495.5 477.5 L496.8 472.4 L498 473.4 L499.2 468.3 L500.4 475.4 L501.6 481.5 L502.9 487.6 L504.1 479.5 L505.3 478.5 L506.5 480.5 L507.7 481.5 L509 489.7 L510.2 485.6 L511.4 489.7 L512.6 483.6 L513.8 484.6 L515.1 481.5 L516.3 479.5 L517.5 467.3 L518.7 460.2 L519.9 459.1 L521.2 462.2 L522.4 461.2 L523.6 475.4 L524.8 479.5 L526 481.5 L527.3 487.6 L528.5 491.7 L529.7 479.5 L530.9 473.4 L532.1 470.3 L533.7 479.3 L534.9 485.4 L536.1 492.5 L537.3 480.3 L538.5 471.2 L539.8 461 L541 453.9 L542.2 455.9 L543.4 453.3 L544.2 452.9 L545.5 463 L546.7 479.3 L547.9 478.3 L549.1 485.4 L550.3 497.6 L551.6 498.6 L552.8 509.8 L554 522 L555.2 527.1 L556.4 520 L557.7 505.8 L558.9 489.5 L560.1 475.2 L561.3 463 L562.1 458 L563.4 465.1 L564.6 475.2 L565.8 485.4 L567 499.7 L568.2 511.9 L569.5 513.9 L570.7 505.8 L571.9 500.7 L573.1 501.7 L574.3 513.9 L575.6 509.8 L576.8 501.7 L578 491.5 L579.2 481.4 L580.4 471.2 L581.7 470.2 L582.9 481.4 L584.1 495.6 L585.3 507.8 L586.5 522 L587.8 532.2 L589 526.1 L590.2 510.8 L591.4 508.8 L592.6 506.8 L593.9 497.6 L595.1 490.5 L596.3 500.7 L597.5 493.6 L598.7 485.4 L600 484.4 L601.2 483.4 L602.4 485.4 L603.6 489.5 L604.8 495.6 L606.1 489.5 L607.3 477.3 L608.5 465.1 L609.7 459 L610.9 452.9 L611.8 451.9 L613 461 L614.2 481.4 L615.4 477.3 L616.6 483.4 L617.9 489.5 L619.1 487.5 L620.3 495.6 L621.5 501.7 L622.7 503.7 L624 509.8 L625.2 515.9 L626.4 516.3 L627.6 516.9 L628.8 515.9 L630.1 505.8 L631.3 502.7 L632.5 499.7 L633.7 489.5 L634.9 481.4 L635.8 478.3 L637 480.3 L638.2 485.4 L639.4 486.4 L640.6 481.4 L641.9 470.2 L643.1 464.1 L643.9 463 L645.1 467.1 L646.3 481.4 L648.3 518 L649.5 501.7 L650.7 489.5 L651.9 471.2 L653.1 459 L653.9 456.9 L655.2 463 L656.4 461 L657.6 459 L658.8 456.9 L660 454.9 L661.3 452.5 L662.5 452.9 L663.7 465.1 L664.9 463 L666.2 454.9 L667.4 444.7 L668.6 434.6 L669.8 431.5 L671 437.6 L672.3 448.8 L673.5 449.8 L674.7 448.8 L675.9 455.9 L677.1 445.8 L678.4 448.8 L679.6 454.9 L680.8 446.8 L682 444.7 L683.2 443.7 L684.5 442.7 L685.7 443.7 L686.9 449.8 L688.1 447.8 L689.3 439.7 L690.6 438.2 L691.8 442.7 L693 450.8 L694.2 453.9 L695.4 461 L696.7 459 L697.9 452.9 L699.1 451.9 L700.3 459 L701.5 469.1 L702.8 481.4 L704 478.3 L705.2 489.5 L706.4 497.6 L707.6 501.7 L708.5 518 L709.3 532.2 L710.1 540.3 L711.3 538.3 L712.5 530.2 L713.7 522 L715 513.9 L716.2 511.9 L717.4 512.9 L718.6 505.8 L719.8 495.6 L721.1 503.7 L722.3 515.9 L723.5 518 L724.7 523 L725.9 513.9 L727.2 503.7 L728.4 500.7 L729.6 503.7 L730.8 509.8 L731.6 512.9 L732.9 505.8 L734.1 499.7 L735.3 491.5 L736.5 488.5 L737.7 493.6 L739 503.7 L740.2 502.7 L741.4 513.9 L742.6 526.1 L743.8 533.2 L745.1 534.2 L746.3 524.1 L747.5 505.8 L748.7 487.5 L749.9 471.2 L751.2 463 L752.4 460 L753.6 461 L754.8 454.9 L756 445.8 L756.9 443.7 L758.1 447.8 L759.3 452.9 L760.1 461 L760.9 460 L761.7 467.1 L762.8 475.2" fill="none" stroke="#fde4e0" stroke-width="3" stroke-linejoin="round" opacity="0.7"/>
<path d="M77 437.9 L77.1 437.9 L78.5 445.6 L80.2 457.8 L82.2 471 L83.4 472 L84.6 476.5 L85.9 463.9 L87.3 452.7 L88.7 451.3 L89.9 449.7 L91.4 449.2 L92.4 459.8 L93.6 470 L94.8 471 L96 468 L97.3 471 L98.5 456.8 L99.7 463.9 L100.9 472 L102.1 473.7 L103.4 471.6 L104.6 472 L105.8 459.8 L107 431.4 L107.8 420.2 L109 417.1 L110.3 400.8 L111.3 383.6 L112.3 380.5 L113.3 387.6 L114.3 382.5 L115.6 386.6 L116.8 400.8 L118 409 L118.8 393.7 L120 411 L120.8 420.2 L122.1 419.1 L123.3 431.4 L124.5 446.6 L125.7 425.2 L126.9 411 L128.2 415.1 L129.4 410 L130.6 408 L131.8 415.1 L133 425.2 L134.3 422.2 L135.5 428.3 L137.1 431.4 L138.3 430.3 L139.6 417.1 L140.8 418.1 L142 415.1 L143.2 409 L144.4 404.9 L145.7 410 L146.9 409 L148.1 416.1 L149.3 421.2 L150.9 422.2 L152.2 421.2 L153.4 411 L154.6 412 L155.8 419.1 L157 428.3 L158.3 433.4 L159.5 430.3 L160.7 437.5 L161.9 431.4 L163.1 409 L164.4 406.9 L165.6 410 L166.8 400.8 L168 411 L169.2 431.4 L170.5 445.6 L171.7 456.8 L172.9 447.6 L174.1 442.5 L175.3 427.3 L176.6 406.9 L177.8 392.7 L179 382.5 L180.2 369.3 L181.5 368.3 L182.7 368.7 L183.9 368.3 L185.1 378.5 L185.9 390.7 L187.1 380.5 L187.8 379.5 L189.1 387.6 L190.3 388.6 L191.5 388.6 L192.7 400.8 L193.9 399.8 L195.2 388.6 L196.4 380.5 L197.6 382.5 L198.8 390.7 L200 402.9 L201.3 419.1 L202.5 431.4 L203.7 430.3 L204.9 435.4 L206.2 417.1 L207.4 400.8 L208.6 388.6 L209.8 376.4 L211 372 L212.3 380.5 L213.5 388.6 L214.7 398.8 L215.9 409 L217.1 413 L218.4 411 L219.6 417.1 L220.8 420.2 L222 418.1 L223.6 413 L225.3 409 L226.5 394.7 L227.7 392.7 L228.5 401.9 L229.7 391.7 L231 389.7 L232.2 398.8 L233.4 396.8 L234.6 402.9 L235.8 419.1 L237.1 435.4 L238.3 433.4 L239.5 445.6 L240.7 457.8 L241.9 463.9 L242.8 456.8 L244 471 L245.2 472 L246.4 455.8 L247.6 447.6 L248.9 439.5 L250.1 435.4 L251.3 439.5 L252.5 433.4 L253.7 432.4 L255 447.6 L256.2 446.6 L257.4 441.5 L258.6 427.3 L259.8 415.1 L261.1 408 L262.3 406.5 L263.5 411 L264.7 419.1 L265.9 425.2 L267.2 432.4 L268.4 433.4 L269.6 447.6 L270.8 449.7 L272 435.4 L273.3 425.2 L274.5 413 L275.7 406.9 L276.9 411 L278.1 421.2 L279.4 429.3 L280.2 434.4 L281.4 425.2 L282.6 413 L283.8 402.9 L285.1 394.7 L286.3 393.1 L287.5 394.7 L288.7 398.8 L289.9 399.8 L291.2 397.8 L292.4 409 L293.6 419.1 L294.8 420.2 L296 429.3 L297.3 425.2 L298.5 431.4 L299.7 441.5 L300.9 453.7 L302.1 463.9 L303.7 485.2 L304.9 476.1 L306.1 468 L307.3 443.6 L308.5 433.4 L309.4 409 L310.6 390.7 L311.4 389.7 L312.6 396.8 L313.8 413 L315 435.4 L316.3 459.8 L317.5 460.8 L318.7 458.8 L319.9 447.6 L321.2 437.5 L322.4 433.4 L323.6 441.5 L324.8 453.7 L326 456.8 L327.3 470 L328.5 471 L329.7 463.9 L330.9 461.9 L332.1 465.9 L332.9 453.7 L334.2 460.8 L335.4 468 L336.6 465.9 L337.8 459.8 L339 451.7 L340.3 439.5 L341.5 427.3 L342.7 419.1 L343.9 427.3 L345.1 428.3 L346.4 431.4 L347.6 437.5 L348.8 442.5 L350 427.3 L351.3 409 L352.5 390.7 L353.7 378.5 L354.9 374 L356.1 380.5 L357.4 390.7 L358.6 409 L359.8 415.1 L361 431.4 L362.2 443.6 L363.5 451.7 L364.7 459.8 L365.9 460.8 L366.7 456.8 L367.9 460.8 L369.1 459.8 L370.4 445.6 L371.6 438.5 L372.8 435.4 L374 419.1 L375.2 412 L376.5 415.1 L377.7 423.2 L378.9 430.3 L380.1 439.5 L381.4 440.5 L382.6 433.4 L383.8 431.4 L385 432.4 L386.2 435.4 L387.5 441.5 L388.7 435.4 L389.9 419.1 L391.1 413 L392.3 421.2 L393.6 433.4 L394.8 451.7 L396 453.7 L397.2 461.9 L398.4 455.8 L399.7 444.6 L400.9 455.8 L402.1 461.9 L403.3 449.7 L404.5 453.7 L405.8 461.9 L407 460.8 L408.2 465.9 L409.4 474.1 L410.6 482.2 L411.9 487.3 L413.1 488.3 L414.3 486.3 L415.1 491.3 L416.3 480.2 L418.7 462.2 L419.9 465.2 L421.1 453 L422.3 451 L423.5 446.9 L424.8 444.9 L426 445.9 L427.2 443.9 L428.4 451 L429.6 442.9 L430.9 428.6 L432.1 449 L433.3 451 L434.5 455.1 L435.7 459.1 L437 451 L438.2 438.8 L439.4 430.7 L440.6 420.5 L441.4 413.4 L442.7 416.4 L443.9 406.3 L445.1 396.1 L445.9 395.1 L447.1 402.2 L448.4 406.3 L449.2 409.3 L450 422.5 L451.2 438.8 L452.4 444.9 L453.6 449 L454.9 458.1 L456.1 453 L457.3 457.1 L458.5 465.2 L459.7 455.1 L461 450 L462.2 451 L463.4 440.8 L464.6 430.7 L465.8 433.7 L467.1 430.7 L468.3 436.8 L469.5 442.9 L470.7 451 L471.9 457.1 L473.2 460.2 L474.4 451 L475.6 441.9 L476.8 449 L478 440.8 L479.3 441.9 L480.5 446.9 L481.7 461.2 L482.9 428.6 L484.1 432.7 L485.4 457.1 L486.2 466.3 L487 463.2 L487.8 487.6 L488.6 503.9 L489.4 513 L490.7 508 L491.9 501.9 L493.1 502.9 L494.3 491.7 L495.5 477.5 L496.8 472.4 L498 473.4 L499.2 468.3 L500.4 475.4 L501.6 481.5 L502.9 487.6 L504.1 479.5 L505.3 478.5 L506.5 480.5 L507.7 481.5 L509 489.7 L510.2 485.6 L511.4 489.7 L512.6 483.6 L513.8 484.6 L515.1 481.5 L516.3 479.5 L517.5 467.3 L518.7 460.2 L519.9 459.1 L521.2 462.2 L522.4 461.2 L523.6 475.4 L524.8 479.5 L526 481.5 L527.3 487.6 L528.5 491.7 L529.7 479.5 L530.9 473.4 L532.1 470.3 L533.7 479.3 L534.9 485.4 L536.1 492.5 L537.3 480.3 L538.5 471.2 L539.8 461 L541 453.9 L542.2 455.9 L543.4 453.3 L544.2 452.9 L545.5 463 L546.7 479.3 L547.9 478.3 L549.1 485.4 L550.3 497.6 L551.6 498.6 L552.8 509.8 L554 522 L555.2 527.1 L556.4 520 L557.7 505.8 L558.9 489.5 L560.1 475.2 L561.3 463 L562.1 458 L563.4 465.1 L564.6 475.2 L565.8 485.4 L567 499.7 L568.2 511.9 L569.5 513.9 L570.7 505.8 L571.9 500.7 L573.1 501.7 L574.3 513.9 L575.6 509.8 L576.8 501.7 L578 491.5 L579.2 481.4 L580.4 471.2 L581.7 470.2 L582.9 481.4 L584.1 495.6 L585.3 507.8 L586.5 522 L587.8 532.2 L589 526.1 L590.2 510.8 L591.4 508.8 L592.6 506.8 L593.9 497.6 L595.1 490.5 L596.3 500.7 L597.5 493.6 L598.7 485.4 L600 484.4 L601.2 483.4 L602.4 485.4 L603.6 489.5 L604.8 495.6 L606.1 489.5 L607.3 477.3 L608.5 465.1 L609.7 459 L610.9 452.9 L611.8 451.9 L613 461 L614.2 481.4 L615.4 477.3 L616.6 483.4 L617.9 489.5 L619.1 487.5 L620.3 495.6 L621.5 501.7 L622.7 503.7 L624 509.8 L625.2 515.9 L626.4 516.3 L627.6 516.9 L628.8 515.9 L630.1 505.8 L631.3 502.7 L632.5 499.7 L633.7 489.5 L634.9 481.4 L635.8 478.3 L637 480.3 L638.2 485.4 L639.4 486.4 L640.6 481.4 L641.9 470.2 L643.1 464.1 L643.9 463 L645.1 467.1 L646.3 481.4 L648.3 518 L649.5 501.7 L650.7 489.5 L651.9 471.2 L653.1 459 L653.9 456.9 L655.2 463 L656.4 461 L657.6 459 L658.8 456.9 L660 454.9 L661.3 452.5 L662.5 452.9 L663.7 465.1 L664.9 463 L666.2 454.9 L667.4 444.7 L668.6 434.6 L669.8 431.5 L671 437.6 L672.3 448.8 L673.5 449.8 L674.7 448.8 L675.9 455.9 L677.1 445.8 L678.4 448.8 L679.6 454.9 L680.8 446.8 L682 444.7 L683.2 443.7 L684.5 442.7 L685.7 443.7 L686.9 449.8 L688.1 447.8 L689.3 439.7 L690.6 438.2 L691.8 442.7 L693 450.8 L694.2 453.9 L695.4 461 L696.7 459 L697.9 452.9 L699.1 451.9 L700.3 459 L701.5 469.1 L702.8 481.4 L704 478.3 L705.2 489.5 L706.4 497.6 L707.6 501.7 L708.5 518 L709.3 532.2 L710.1 540.3 L711.3 538.3 L712.5 530.2 L713.7 522 L715 513.9 L716.2 511.9 L717.4 512.9 L718.6 505.8 L719.8 495.6 L721.1 503.7 L722.3 515.9 L723.5 518 L724.7 523 L725.9 513.9 L727.2 503.7 L728.4 500.7 L729.6 503.7 L730.8 509.8 L731.6 512.9 L732.9 505.8 L734.1 499.7 L735.3 491.5 L736.5 488.5 L737.7 493.6 L739 503.7 L740.2 502.7 L741.4 513.9 L742.6 526.1 L743.8 533.2 L745.1 534.2 L746.3 524.1 L747.5 505.8 L748.7 487.5 L749.9 471.2 L751.2 463 L752.4 460 L753.6 461 L754.8 454.9 L756 445.8 L756.9 443.7 L758.1 447.8 L759.3 452.9 L760.1 461 L760.9 460 L761.7 467.1 L762.8 475.2" fill="none" stroke="#de1313" stroke-width="1.5" stroke-linejoin="round"/>
</g>
<g clip-path="url(#ct)">
<path d="M225.5 96.2H323.5M225.5 90.5V101.9M323.5 90.5V101.9M201.7 108.1H238.9M201.7 102.4V113.8M238.9 102.4V113.8M215.2 106.5H363.5M215.2 100.8V112.2M363.5 100.8V112.2M263.1 109.9H450.3M263.1 104.2V115.6M450.3 104.2V115.6M239.5 127.3H384.6M239.5 121.6V133M384.6 121.6V133M194.5 140.4H228.8M194.5 134.7V146.1M228.8 134.7V146.1M223.2 137.9H386.5M223.2 132.2V143.6M386.5 132.2V143.6M87.2 151.8H210.5M87.2 146.1V157.5M210.5 146.1V157.5M185.4 151.8H240.5M185.4 146.1V157.5M240.5 146.1V157.5M330.6 151.6H451.5M330.6 145.9V157.3M451.5 145.9V157.3M77 169.5H186.5M186.5 163.8V175.2M243.5 172.6H440.5M243.5 166.9V178.3M440.5 166.9V178.3M260.8 182.8H444.9M260.8 177.1V188.5M444.9 177.1V188.5M260.8 186.6H449.2M260.8 180.9V192.3M449.2 180.9V192.3M171.5 216.9H216.5M171.5 211.2V222.6M216.5 211.2V222.6M219.5 221.4H368.5M219.5 215.7V227.1M368.5 215.7V227.1M382 143.2H476.5M382 137.5V148.9M476.5 137.5V148.9M403.5 144.4H489.5M403.5 138.7V150.1M489.5 138.7V150.1M445.8 175.9H522M445.8 170.2V181.6M522 170.2V181.6M493.8 189.7H516.4M493.8 184V195.4M516.4 184V195.4M483.7 137.9H639M483.7 132.2V143.6M639 132.2V143.6M510 120.6H696.3M510 114.9V126.3M696.3 114.9V126.3M385.4 99.3H513.7M385.4 93.6V105M513.7 93.6V105M499.5 19.7H539.4M499.5 14V25.4M539.4 14V25.4M560 16.2H661.8M560 10.5V21.9M661.8 10.5V21.9M567.2 26.6H712.6M567.2 20.9V32.3M712.6 20.9V32.3M533.8 36.9H631.1M533.8 31.2V42.6M631.1 31.2V42.6M547.4 36.9H664.3M547.4 31.2V42.6M664.3 31.2V42.6M661.8 44.2H691.5M661.8 38.5V49.9M691.5 38.5V49.9M567.2 47.4H679.7M567.2 41.7V53.1M679.7 41.7V53.1M636.5 50.8H679.7M636.5 45.1V56.5M679.7 45.1V56.5M505.7 50.8H539.4M505.7 45.1V56.5M539.4 45.1V56.5M511.2 50.8H553.4M511.2 45.1V56.5M553.4 45.1V56.5M556.6 58.2H653.5M556.6 52.5V63.9M653.5 52.5V63.9M516.6 61.2H537.7M516.6 55.5V66.9M537.7 55.5V66.9M516.6 64.9H539.4M516.6 59.2V70.6M539.4 59.2V70.6M539.4 61.5H636.5M539.4 55.8V67.2M636.5 55.8V67.2M539.4 68.3H634.5M539.4 62.6V74M634.5 62.6V74M567.2 68.4H680.3M567.2 62.7V74.1M680.3 62.7V74.1M510 75.4H565.7M510 69.7V81.1M565.7 69.7V81.1M522.6 78.5H562.6M522.6 72.8V84.2M562.6 72.8V84.2M535.4 85.7H646.9M535.4 80V91.4M646.9 80V91.4M488.6 89.2H528.5M488.6 83.5V94.9M528.5 83.5V94.9M520.8 88.9H549.9M520.8 83.2V94.6M549.9 83.2V94.6M528.5 89.2H668.5M528.5 83.5V94.9M668.5 83.5V94.9M663 89.2H724.6M663 83.5V94.9M724.6 83.5V94.9M513.6 92.4H556.9M513.6 86.7V98.1M556.9 86.7V98.1M513.7 99.2H556.9M513.7 93.5V104.9M556.9 93.5V104.9M520 99.5H560.1M520 93.8V105.2M560.1 93.8V105.2M515 103.3H539.2M515 97.6V109M539.2 97.6V109M518.8 103.3H544.1M518.8 97.6V109M544.1 97.6V109M523.3 103.1H656.2M523.3 97.4V108.8M656.2 97.4V108.8M560.1 103.2H701.8M560.1 97.5V108.9M701.8 97.5V108.9M689.5 99.6H726.9M689.5 93.9V105.3M726.9 93.9V105.3" fill="none" stroke="#1a1a1a" stroke-width="1"/>
<path d="M239.1 96.2l3.4 -3.4l3.4 3.4l-3.4 3.4zM217.4 108.1l3.4 -3.4l3.4 3.4l-3.4 3.4zM231.4 106.5l3.4 -3.4l3.4 3.4l-3.4 3.4zM384.3 109.9l3.4 -3.4l3.4 3.4l-3.4 3.4zM346.1 127.3l3.4 -3.4l3.4 3.4l-3.4 3.4zM213.1 140.4l3.4 -3.4l3.4 3.4l-3.4 3.4zM290.6 137.9l3.4 -3.4l3.4 3.4l-3.4 3.4zM170.4 151.8l3.4 -3.4l3.4 3.4l-3.4 3.4zM210.4 151.8l3.4 -3.4l3.4 3.4l-3.4 3.4zM407.1 151.6l3.4 -3.4l3.4 3.4l-3.4 3.4zM160.3 169.5l3.4 -3.4l3.4 3.4l-3.4 3.4zM376.3 172.6l3.4 -3.4l3.4 3.4l-3.4 3.4zM380.9 182.8l3.4 -3.4l3.4 3.4l-3.4 3.4zM387.7 186.6l3.4 -3.4l3.4 3.4l-3.4 3.4zM190.1 216.9l3.4 -3.4l3.4 3.4l-3.4 3.4zM229.8 221.4l3.4 -3.4l3.4 3.4l-3.4 3.4zM431.2 143.2l3.4 -3.4l3.4 3.4l-3.4 3.4zM437.8 144.4l3.4 -3.4l3.4 3.4l-3.4 3.4zM498.6 175.9l3.4 -3.4l3.4 3.4l-3.4 3.4zM502.2 189.7l3.4 -3.4l3.4 3.4l-3.4 3.4zM524.8 137.9l3.4 -3.4l3.4 3.4l-3.4 3.4zM527.1 120.6l3.4 -3.4l3.4 3.4l-3.4 3.4zM454 99.3l3.4 -3.4l3.4 3.4l-3.4 3.4zM519.2 19.7l3.4 -3.4l3.4 3.4l-3.4 3.4zM633.4 16.2l3.4 -3.4l3.4 3.4l-3.4 3.4zM665.4 26.6l3.4 -3.4l3.4 3.4l-3.4 3.4zM553.2 36.9l3.4 -3.4l3.4 3.4l-3.4 3.4zM632 36.9l3.4 -3.4l3.4 3.4l-3.4 3.4zM674.6 44.2l3.4 -3.4l3.4 3.4l-3.4 3.4zM648.1 47.4l3.4 -3.4l3.4 3.4l-3.4 3.4zM653.8 50.8l3.4 -3.4l3.4 3.4l-3.4 3.4zM519.2 50.8l3.4 -3.4l3.4 3.4l-3.4 3.4zM527.1 50.8l3.4 -3.4l3.4 3.4l-3.4 3.4zM604.8 58.2l3.4 -3.4l3.4 3.4l-3.4 3.4zM524.8 61.2l3.4 -3.4l3.4 3.4l-3.4 3.4zM524.3 64.9l3.4 -3.4l3.4 3.4l-3.4 3.4zM553.2 61.5l3.4 -3.4l3.4 3.4l-3.4 3.4zM553.2 68.3l3.4 -3.4l3.4 3.4l-3.4 3.4zM649.2 68.4l3.4 -3.4l3.4 3.4l-3.4 3.4zM539.6 75.4l3.4 -3.4l3.4 3.4l-3.4 3.4zM536.1 78.5l3.4 -3.4l3.4 3.4l-3.4 3.4zM635.4 74.6l3.4 -3.4l3.4 3.4l-3.4 3.4zM555.7 85.7l3.4 -3.4l3.4 3.4l-3.4 3.4zM513.2 89.2l3.4 -3.4l3.4 3.4l-3.4 3.4zM529.6 88.9l3.4 -3.4l3.4 3.4l-3.4 3.4zM643.5 89.2l3.4 -3.4l3.4 3.4l-3.4 3.4zM687.1 89.2l3.4 -3.4l3.4 3.4l-3.4 3.4zM531.7 92.4l3.4 -3.4l3.4 3.4l-3.4 3.4zM531.7 99.2l3.4 -3.4l3.4 3.4l-3.4 3.4zM539.8 99.5l3.4 -3.4l3.4 3.4l-3.4 3.4zM526.1 103.3l3.4 -3.4l3.4 3.4l-3.4 3.4zM529.6 103.3l3.4 -3.4l3.4 3.4l-3.4 3.4zM637.8 103.1l3.4 -3.4l3.4 3.4l-3.4 3.4zM679 103.2l3.4 -3.4l3.4 3.4l-3.4 3.4zM699.7 99.6l3.4 -3.4l3.4 3.4l-3.4 3.4z" fill="#000"/>
<path d="M164.9 146.2H380.1" stroke="#2a3bd9" stroke-width="3.8" stroke-linecap="round" fill="none"/>
<path d="M385.4 103.3H534.1" stroke="#2a3bd9" stroke-width="3.8" stroke-linecap="round" fill="none"/>
<path d="M536.3 71.8H702.1" stroke="#2a3bd9" stroke-width="3.8" stroke-linecap="round" fill="none"/>
</g>
<path d="M77 3.7H762.8V660.8H77ZM77 247.8H762.8M77 660.8V669.8M191.3 660.8V669.8M305.6 660.8V669.8M419.9 660.8V669.8M534.2 660.8V669.8M648.5 660.8V669.8M762.8 660.8V669.8M77 12.9H68M77 47.6H68M77 82.4H68M77 117.1H68M77 151.8H68M77 186.5H68M77 221.3H68M77 310.8H68M77 406.4H68M77 502H68M77 597.6H68" fill="none" stroke="#000" stroke-width="1.25"/>
<g font-family="Liberation Sans, sans-serif" font-size="15.8" fill="#0a0a0a" stroke="#0a0a0a" stroke-width="0.3" text-anchor="middle" style="text-rendering:geometricPrecision" opacity="0.999">
<text x="77" y="694.6">900</text>
<text x="191.3" y="694.6">1000</text>
<text x="305.6" y="694.6">1100</text>
<text x="419.9" y="694.6">1200</text>
<text x="534.2" y="694.6">1300</text>
<text x="648.5" y="694.6">1400</text>
<text x="762.8" y="694.6">1500</text>
<text x="419.8" y="731.7">Year AD</text>
<text transform="translate(54.4 12.9) rotate(-90)">-14</text>
<text transform="translate(54.4 82.4) rotate(-90)">-16</text>
<text transform="translate(54.4 151.8) rotate(-90)">-18</text>
<text transform="translate(54.4 221.3) rotate(-90)">-20</text>
<text transform="translate(54.4 310.8) rotate(-90)">1</text>
<text transform="translate(54.4 406.4) rotate(-90)">0</text>
<text transform="translate(54.4 502) rotate(-90)">-1</text>
<text transform="translate(54.4 597.6) rotate(-90)">-2</text>
<text transform="translate(14.2 454.6) rotate(-90)">Temperature anomaly °C</text>
<text transform="translate(17.6 126.4) rotate(-90)">δ<tspan font-size="11" dy="-8">13</tspan><tspan dy="8">C</tspan></text>
</g>
</svg>
</body></html>
